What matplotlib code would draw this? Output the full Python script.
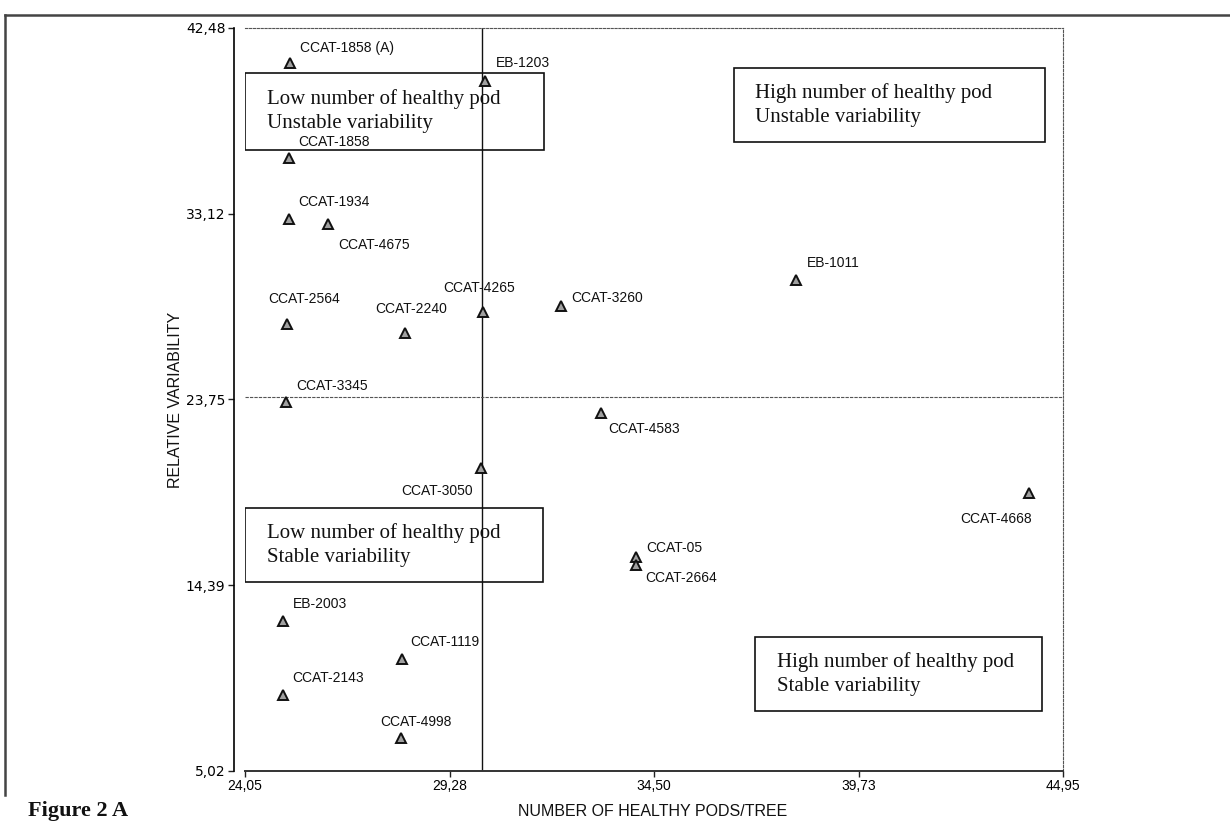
import numpy as np
import matplotlib.pyplot as plt
from matplotlib.patches import Rectangle
from matplotlib.lines import Line2D

# === dane: genotypy kakao ===
names = ['CCAT-1858 (A)', 'EB-1203', 'CCAT-1858', 'CCAT-1934', 'CCAT-4675',
         'CCAT-2564', 'CCAT-2240', 'CCAT-4265', 'CCAT-3260', 'EB-1011',
         'CCAT-3345', 'CCAT-4583', 'CCAT-3050', 'CCAT-4668', 'CCAT-05',
         'CCAT-2664', 'EB-2003', 'CCAT-1119', 'CCAT-2143', 'CCAT-4998']
pods = np.array([25.20, 30.18, 25.18, 25.17, 26.17,
                 25.13, 28.14, 30.13, 32.13, 38.14,
                 25.09, 33.15, 30.09, 44.08, 34.04,
                 34.04, 25.03, 28.05, 25.01, 28.03])
variab = np.array([40.70, 39.82, 35.95, 32.87, 32.58,
                   27.56, 27.10, 28.15, 28.48, 29.75,
                   23.64, 23.05, 20.28, 19.06, 15.81,
                   15.41, 12.56, 10.66, 8.86, 6.67])

xticks = [24.05, 29.28, 34.50, 39.73, 44.95]
yticks = [5.02, 14.39, 23.75, 33.12, 42.48]
x_ref = 30.10   # pionowa linia
y_ref = 23.90   # pozioma linia

quad_text = ['Low number of healthy pod\nUnstable variability',
             'High number of healthy pod\nUnstable variability',
             'Low number of healthy pod\nStable variability',
             'High number of healthy pod\nStable variability']

# przesuniecia etykiet (px) i wyrownanie
lab_off = [(10, 15, 'left'), (11, 18, 'left'), (9, 16, 'left'), (9, 17, 'left'),
           (10, -21, 'left'), (-19, 25, 'left'), (-30, 24, 'left'), (-40, 24, 'left'),
           (10, 8, 'left'), (10, 17, 'left'), (11, 16, 'left'), (7, -16, 'left'),
           (-9, -23, 'right'), (3, -26, 'right'), (10, 9, 'left'), (9, -13, 'left'),
           (10, 17, 'left'), (9, 17, 'left'), (10, 17, 'left'), (-21, 16, 'left')]

# prostokaty: (x0, x1, y0, y1, x tekstu)
boxes = [(24.05, 31.70, 36.35, 40.20, 24.60),
         (36.55, 44.49, 36.75, 40.46, 37.08),
         (24.05, 31.66, 14.55, 18.28, 24.61),
         (37.08, 44.41, 8.05, 11.78, 37.64)]

fig = plt.figure(figsize=(12.3, 8.24), dpi=100)
ax = fig.add_axes([245/1230, 1 - 771/824, (1063 - 245)/1230, (771 - 28)/824])
sans = ['Liberation Sans', 'DejaVu Sans']
serif = ['Liberation Serif', 'DejaVu Serif']

ax.set_xlim(xticks[0], xticks[-1])
ax.set_ylim(yticks[0], yticks[-1])
ax.set_xticks(xticks)
ax.set_yticks(yticks)
ax.set_xticklabels([f'{v:.2f}'.replace('.', ',') for v in xticks], family=sans, fontsize=10)
ax.set_yticklabels([f'{v:.2f}'.replace('.', ',') for v in yticks], family=sans, fontsize=10)
ax.tick_params(direction='out', length=4, width=1, pad=2, color='#222')

ax.spines['left'].set_position(('outward', 8))
ax.spines['left'].set_linewidth(1.2)
ax.spines['bottom'].set_linewidth(1.4)
ax.spines['bottom'].set_color('#333')
for s in ['top', 'right']:
    ax.spines[s].set_linestyle((0, (2, 1.5)))
    ax.spines[s].set_linewidth(0.8)
    ax.spines[s].set_color('#555')

ax.axvline(x_ref, color='#111', lw=1.0)
ax.axhline(y_ref, color='#555', lw=0.8, ls=(0, (3, 1)))

for (x0, x1, y0, y1, xt), txt in zip(boxes, quad_text):
    ax.add_patch(Rectangle((x0, y0), x1 - x0, y1 - y0, fill=False,
                           ec='#111', lw=1.2, zorder=3))
    ax.text(xt, (y0 + y1) / 2, txt, family=serif, fontsize=15, va='center',
            ha='left', linespacing=1.35, zorder=4, color='#111')

ax.plot(pods, variab, ls='none', marker='^', ms=7, mfc='#a0a0a0', mec='#111',
        mew=1.4, zorder=5)

for n, x, y, (dx, dy, ha) in zip(names, pods, variab, lab_off):
    ax.annotate(n, (x, y), xytext=(dx, dy), textcoords='offset pixels',
                ha=ha, va='center', family=sans, fontsize=10, zorder=6, color='#111')

fig.text(653/1230, 1 - 812/824, 'NUMBER OF HEALTHY PODS/TREE', ha='center', va='center',
         family=sans, fontsize=11.5, color='#111')
fig.text(176/1230, 1 - 400/824, 'RELATIVE VARIABILITY', ha='center', va='center',
         rotation=90, family=sans, fontsize=11.5, color='#111')

# ramka skanu i podpis
fig.add_artist(Line2D([5/1230, 1], [1 - 15/824, 1 - 15/824], color='#444', lw=1.8))
fig.add_artist(Line2D([5/1230, 5/1230], [1 - 15/824, 1 - 795/824], color='#444', lw=1.8))
fig.text(28/1230, 1 - 821/824, 'Figure 2 A', ha='left', va='bottom', family=serif,
         fontsize=16, fontweight='bold', color='#111')

fig.savefig('out.png', dpi=100)
